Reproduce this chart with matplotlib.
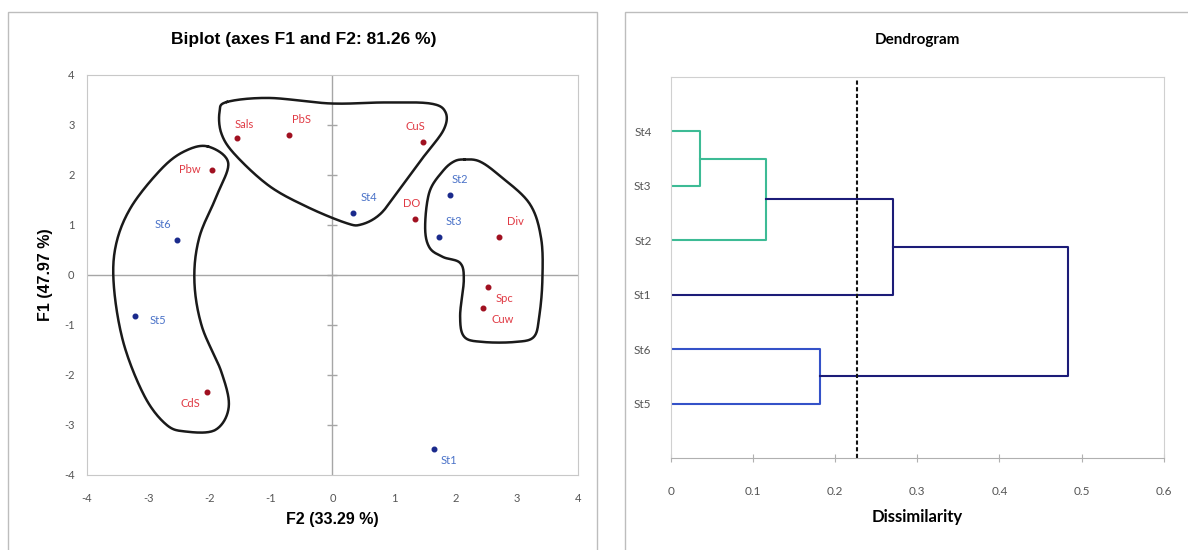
import numpy as np
import matplotlib
matplotlib.use("Agg")
import matplotlib.pyplot as plt
from matplotlib.patches import Rectangle

plt.rcParams['font.family'] = ['Lato', 'DejaVu Sans']
plt.rcParams['axes.unicode_minus'] = False

# biplot data (F2 on x, F1 on y)
var_names = ['Sals', 'PbS', 'CuS', 'Pbw', 'DO', 'Div', 'Spc', 'Cuw', 'CdS']
var_x = [-1.55, -0.70, 1.47, -1.96, 1.35, 2.71, 2.53, 2.45, -2.04]
var_y = [2.74, 2.80, 2.66, 2.10, 1.12, 0.76, -0.24, -0.66, -2.34]
st_names = ['St4', 'St2', 'St3', 'St6', 'St5', 'St1']
st_x = [0.34, 1.91, 1.73, -2.53, -3.21, 1.65]
st_y = [1.24, 1.60, 0.76, 0.70, -0.82, -3.48]

# label offsets in points (dx, dy)
var_off = [(5, 10), (9, 11), (-5, 11), (-16, 0), (-3, 11), (12, 11), (12, -8), (14, -8), (-12, -8)]
st_off = [(11, 11), (7, 11), (11, 11), (-10, 11), (16, -3), (11, -8)]

# cluster outlines drawn by hand around groups
hull_left = [(-2.03, 2.57), (-1.70, 2.25), (-1.88, 1.60), (-2.17, 0.75), (-2.25, -0.11),
             (-2.13, -1.02), (-1.81, -1.94), (-1.69, -2.64), (-1.91, -3.10), (-2.40, -3.13),
             (-2.71, -2.99), (-3.06, -2.43), (-3.40, -1.38), (-3.56, -0.25), (-3.53, 0.59),
             (-3.28, 1.36), (-2.78, 2.13), (-2.40, 2.48)]
hull_top = [(-1.72, 3.46), (-1.03, 3.54), (-0.03, 3.43), (0.84, 3.45), (1.59, 3.43),
            (1.84, 3.26), (1.81, 2.90), (1.47, 2.34), (1.09, 1.71), (0.78, 1.22),
            (0.47, 1.01), (0.22, 1.04), (-0.41, 1.36), (-1.03, 1.78), (-1.59, 2.41),
            (-1.81, 2.83), (-1.84, 3.26)]
hull_right = [(2.15, 2.31), (2.40, 2.27), (2.72, 1.99), (3.21, 1.43), (3.40, 0.73),
              (3.42, -0.11), (3.37, -0.82), (3.28, -1.24), (2.97, -1.34), (2.46, -1.34),
              (2.15, -1.24), (2.08, -0.82), (2.14, -0.10), (2.08, 0.24), (1.80, 0.36),
              (1.58, 0.55), (1.51, 0.96), (1.58, 1.66), (1.80, 2.08), (1.98, 2.27)]

# dendrogram data
leaves = ['St5', 'St6', 'St1', 'St2', 'St3', 'St4']   # bottom to top
merge_a = ['St4', 'C1', 'C2', 'St6', 'C3']
merge_b = ['St3', 'St2', 'St1', 'St5', 'C4']
merge_h = [0.035, 0.116, 0.270, 0.182, 0.483]
merge_col = ['#3dbb95', '#3dbb95', '#1c1c78', '#3452c8', '#1c1c78']
cut_level = 0.226


def closed_spline(pts, n=20):
    p = np.array(pts)
    m = len(p)
    out = []
    for i in range(m):
        p0, p1, p2, p3 = p[i - 1], p[i], p[(i + 1) % m], p[(i + 2) % m]
        for t in np.linspace(0, 1, n, endpoint=False):
            t2, t3 = t * t, t * t * t
            out.append(0.5 * (2 * p1 + (-p0 + p2) * t + (2 * p0 - 5 * p1 + 4 * p2 - p3) * t2
                              + (-p0 + 3 * p1 - 3 * p2 + p3) * t3))
    out.append(out[0])
    return np.array(out)


fig = plt.figure(figsize=(11.88, 5.5), dpi=100)

# panel borders
fig.patches.append(Rectangle((0.0067, -0.02), 0.4958, 0.998, transform=fig.transFigure,
                             fill=False, edgecolor='#bdbdbd', lw=1))
fig.patches.append(Rectangle((0.5265, -0.02), 0.49, 0.998, transform=fig.transFigure,
                             fill=False, edgecolor='#bdbdbd', lw=1))

# ---- biplot
ax = fig.add_axes([0.0732, 0.1364, 0.4133, 0.7273])
ax.set_xlim(-4, 4)
ax.set_ylim(-4, 4)
ax.axhline(0, color='#a6a6a6', lw=1, zorder=1)
ax.axvline(0, color='#a6a6a6', lw=1, zorder=1)
ax.plot([0] * 7, range(-3, 4), ls='none', marker='_', ms=7, color='#a6a6a6', zorder=1)
for h in [hull_left, hull_top, hull_right]:
    c = closed_spline(h)
    ax.plot(c[:, 0], c[:, 1], color='#1a1a1a', lw=1.8, zorder=2)
ax.plot(var_x, var_y, 'o', color='#a01020', ms=3.3, zorder=3)
ax.plot(st_x, st_y, 'o', color='#1a2a8c', ms=3.3, zorder=3)
for n, x, y, o in zip(var_names, var_x, var_y, var_off):
    ax.annotate(n, (x, y), xytext=o, textcoords='offset points', ha='center', va='center',
                fontsize=8, color='#e03a44')
for n, x, y, o in zip(st_names, st_x, st_y, st_off):
    ax.annotate(n, (x, y), xytext=o, textcoords='offset points', ha='center', va='center',
                fontsize=8, color='#4a72c8')
ax.set_xticks(range(-4, 5))
ax.set_yticks(range(-4, 5))
ax.tick_params(axis='x', length=0, labelsize=8, labelcolor='#555555', pad=13)
ax.tick_params(axis='y', length=0, labelsize=8, labelcolor='#555555', pad=9)
for s in ax.spines.values():
    s.set_color('#c8c8c8')
fig.text(0.256, 0.928, 'Biplot (axes F1 and F2: 81.26 %)', fontsize=12.5, fontweight='bold',
         family=['Liberation Sans'], ha='center', va='center')
ax.set_xlabel('F2 (33.29 %)', fontsize=11.5, fontweight='bold', family=['Liberation Sans'], labelpad=6)
ax.set_ylabel('F1 (47.97 %)', fontsize=11.5, fontweight='bold', family=['Liberation Sans'], labelpad=8)

# ---- dendrogram
ax2 = fig.add_axes([0.5648, 0.1673, 0.4147, 0.6927])
ax2.set_xlim(0, 0.6)
ax2.set_ylim(0, 7)
pos = {n: i + 1 for i, n in enumerate(leaves)}
hgt = {n: 0.0 for n in leaves}
for i, (a, b, h, c) in enumerate(zip(merge_a, merge_b, merge_h, merge_col)):
    ax2.plot([hgt[a], h, h, hgt[b]], [pos[a], pos[a], pos[b], pos[b]], color=c, lw=1.5)
    pos['C%d' % (i + 1)] = (pos[a] + pos[b]) / 2
    hgt['C%d' % (i + 1)] = h
ax2.axvline(cut_level, color='#111111', lw=1.5, ls=(0, (2, 1.2)))
ax2.set_yticks(range(1, 7))
ax2.set_yticklabels(leaves)
ax2.set_xticks(np.arange(0, 0.61, 0.1))
ax2.set_xticklabels(['0', '0.1', '0.2', '0.3', '0.4', '0.5', '0.6'])
ax2.tick_params(axis='y', length=0, labelsize=8.5, labelcolor='#555555', pad=14)
ax2.tick_params(axis='x', length=6, direction='inout', color='#b0b0b0', labelsize=8.5,
                labelcolor='#555555', pad=17)
for s in ax2.spines.values():
    s.set_color('#d0d0d0')
ax2.spines['bottom'].set_color('#b0b0b0')
ax2.set_title('Dendrogram', fontsize=11, fontweight='bold', pad=24)
ax2.set_xlabel('Dissimilarity', fontsize=12, fontweight='bold', labelpad=9)

fig.savefig('out.png', dpi=100)
